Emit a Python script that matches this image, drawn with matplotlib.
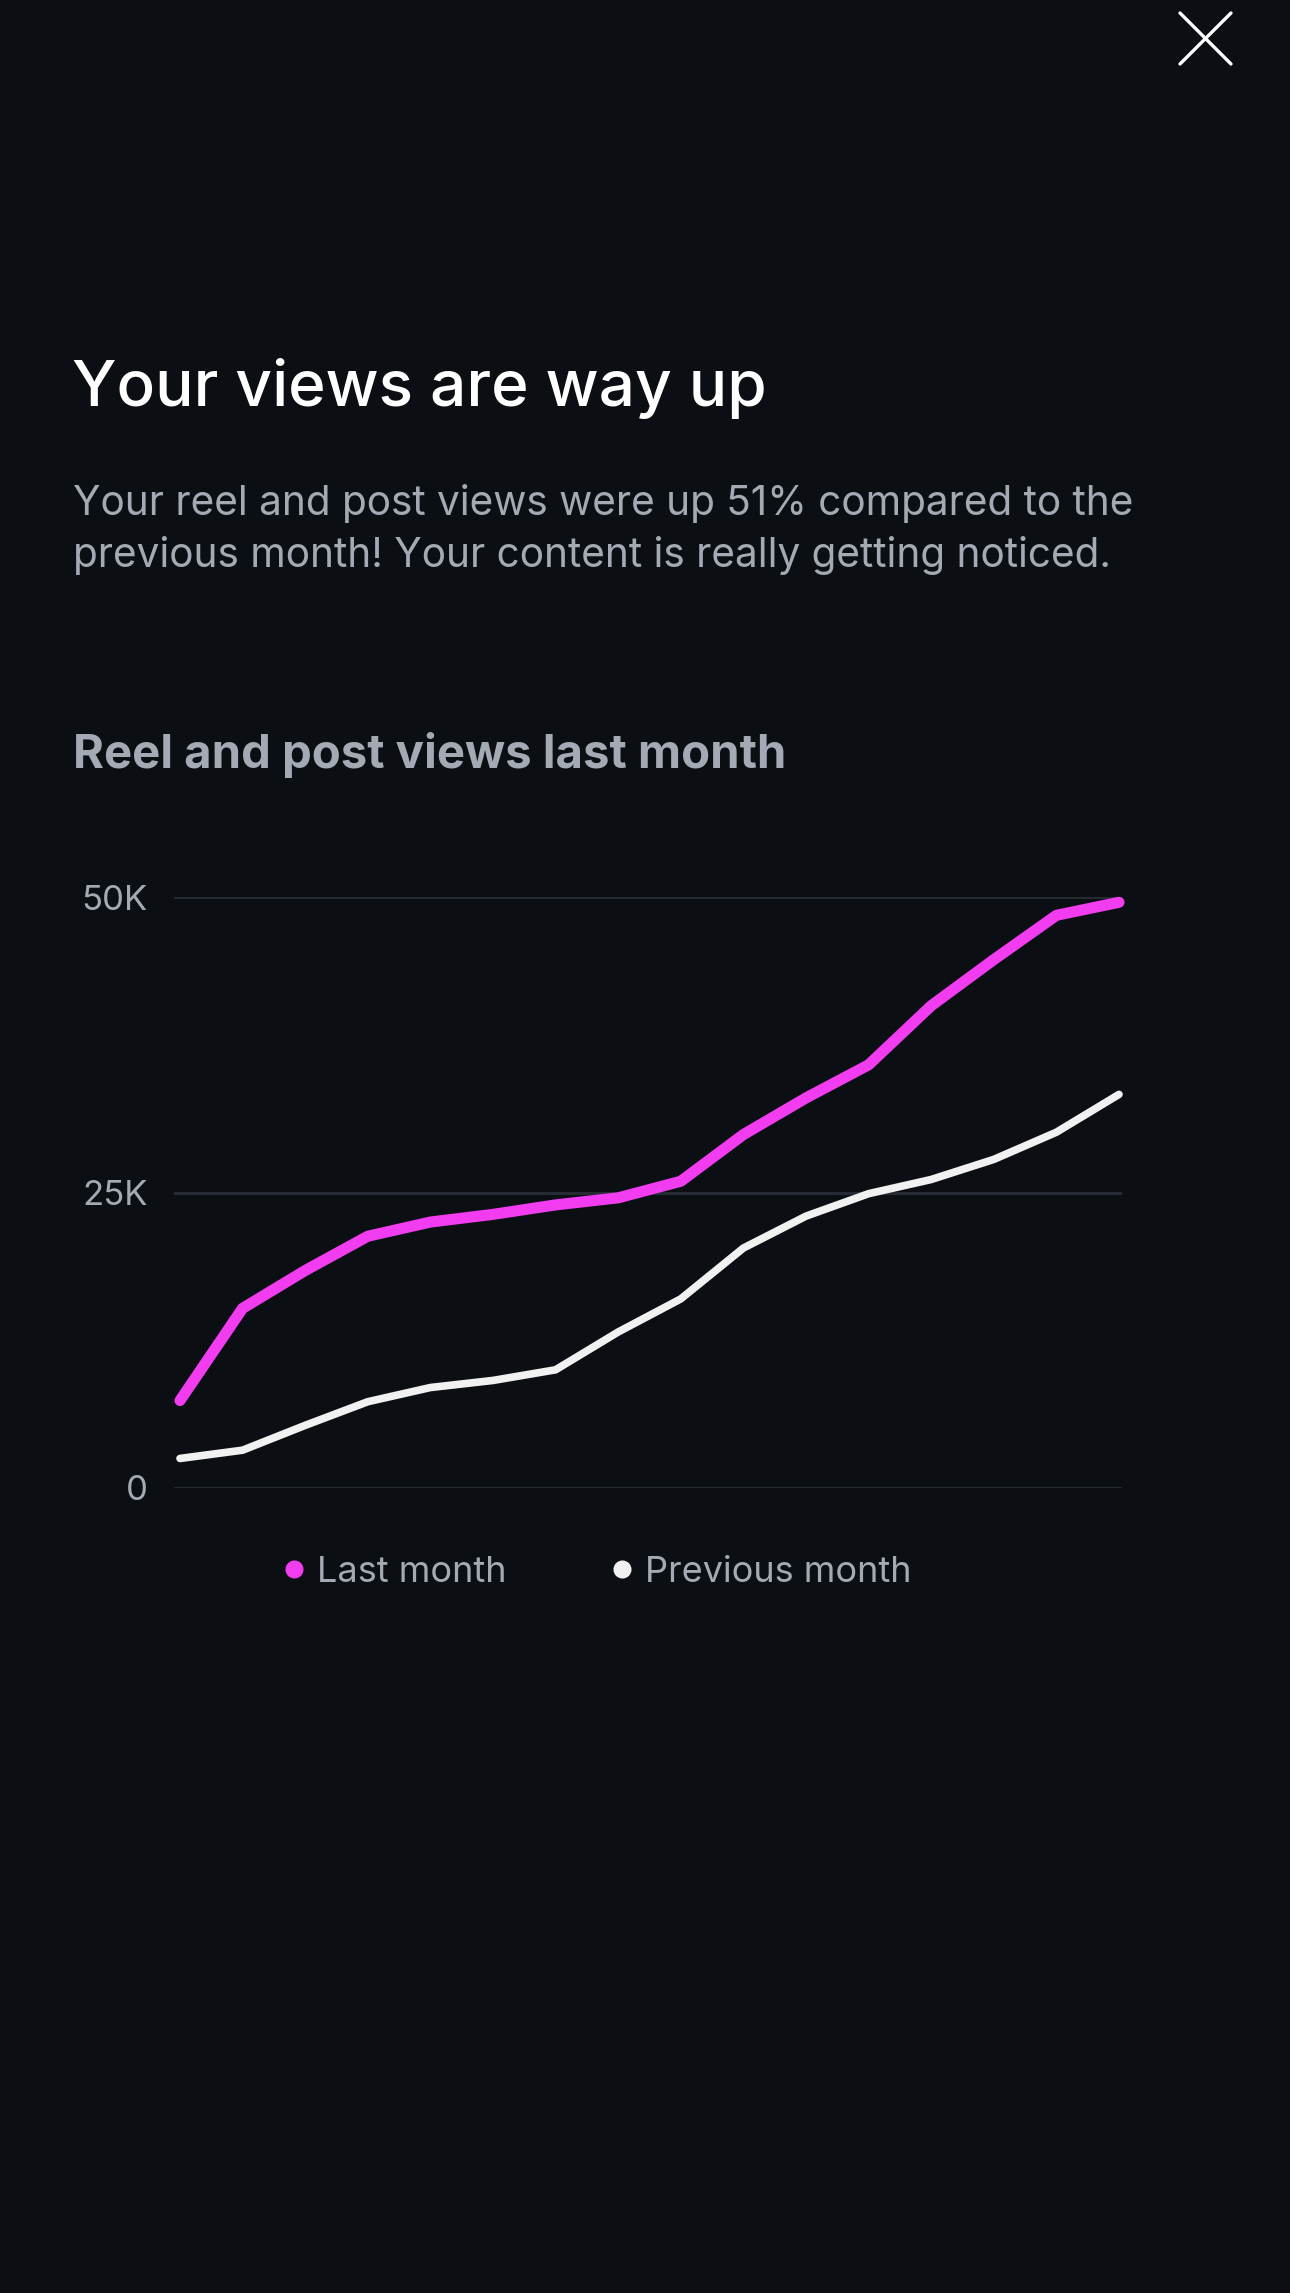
import matplotlib
matplotlib.use("Agg")
import matplotlib.pyplot as plt
from matplotlib.lines import Line2D

# data (16 daily-ish points)
last_month = [7400, 15200, 18400, 21300, 22500, 23150, 23950, 24550, 25950,
              29900, 33000, 35800, 40800, 44700, 48450, 49550]
previous_month = [2500, 3200, 5300, 7300, 8500, 9100, 10000, 13200, 16000,
                  20300, 23000, 24900, 26100, 27800, 30100, 33300]
y_ticks = [0, 25000, 50000]
y_tick_labels = ["0", "25K", "50K"]
series_names = ["Last month", "Previous month"]

BG = "#0b0e13"
MAGENTA = "#f23cf0"
WHITE = "#f1f1f1"
GREY = "#a4aab4"
GRID = "#262a32"

W, H = 1290, 2293
plt.rcParams["font.family"] = ["Inter", "DejaVu Sans"]

fig = plt.figure(figsize=(W / 100, H / 100), dpi=100, facecolor=BG)

def fx(px):
    return px / W

def fy(py):
    return 1 - py / H

# close icon
for xs, ys in [((1180, 1231), (13, 64)), ((1180, 1231), (64, 13))]:
    fig.add_artist(Line2D([fx(xs[0]), fx(xs[1])], [fy(ys[0]), fy(ys[1])],
                          transform=fig.transFigure, color="white", lw=2.4,
                          solid_capstyle="round"))

fig.text(fx(72), fy(406), "Your views are way up", color="white",
         fontsize=46, fontweight="medium", va="baseline", ha="left")
fig.text(fx(73), fy(515), "Your reel and post views were up 51% compared to the",
         color=GREY, fontsize=29.2, va="baseline", ha="left")
fig.text(fx(73), fy(567), "previous month! Your content is really getting noticed.",
         color=GREY, fontsize=29.2, va="baseline", ha="left")
fig.text(fx(73), fy(768), "Reel and post views last month", color=GREY,
         fontsize=34, fontweight="bold", va="baseline", ha="left")

# chart area: 0 gridline at y=1488, 50K at y=897, x from 174 to 1122
left, right = 174, 1122
top, bottom = 897, 1488
ax = fig.add_axes([fx(left), fy(bottom), fx(right - left), (bottom - top) / H])
ax.set_facecolor(BG)

x = list(range(len(last_month)))
step = (1119 - 180) / (len(x) - 1)
ax.set_xlim(-(180 - left) / step, len(x) - 1 + (right - 1119) / step)
ax.set_ylim(0, 50000)

ax.plot(x, previous_month, color=WHITE, lw=5.5, solid_capstyle="round",
        solid_joinstyle="round", clip_on=False, zorder=3)
ax.plot(x, last_month, color=MAGENTA, lw=8, solid_capstyle="round",
        solid_joinstyle="round", clip_on=False, zorder=4)

ax.set_yticks(y_ticks)
ax.set_yticklabels(y_tick_labels)
ax.set_xticks([])
ax.tick_params(axis="y", length=0, pad=19, labelsize=25, labelcolor=GREY)
ax.grid(axis="y", color=GRID, lw=2.2)
ax.set_axisbelow(True)
for s in ax.spines.values():
    s.set_visible(False)

# legend
legend_items = [(294, 317, MAGENTA, series_names[0]),
                (622, 645, WHITE, series_names[1])]
for dot_x, text_x, col, name in legend_items:
    fig.add_artist(Line2D([fx(dot_x)], [fy(1569)], transform=fig.transFigure,
                          marker="o", markersize=12, color=col, lw=0))
    fig.text(fx(text_x), fy(1582), name, color=GREY, fontsize=26,
             va="baseline", ha="left")

fig.savefig("out.png", dpi=100, facecolor=BG)
